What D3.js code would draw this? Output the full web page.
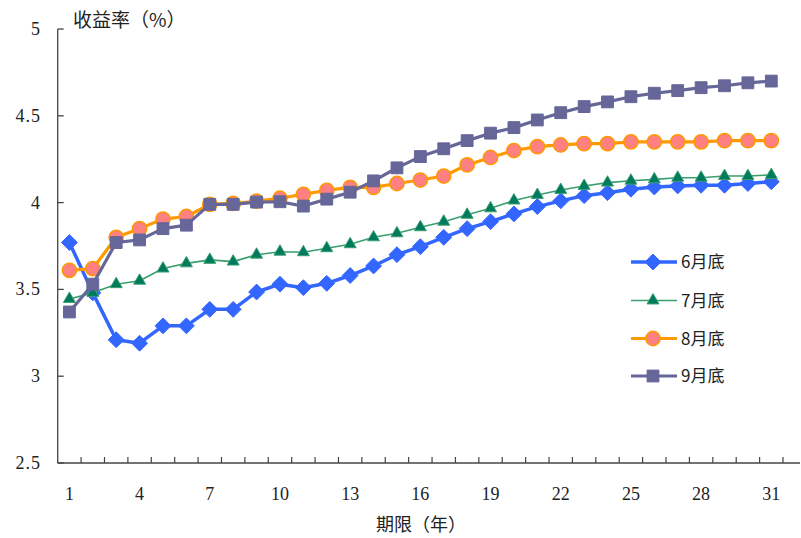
<!DOCTYPE html>
<html>
<head>
<meta charset="utf-8">
<script src="https://cdn.jsdelivr.net/npm/d3@7"></script>
<style>
  body { margin: 0; background: #fff; }
  svg { display: block; }
  text { font-family: "Liberation Serif", "DejaVu Serif", "Noto Sans CJK SC", serif; fill: #222; }
  .cjk { font-family: "Noto Sans CJK SC", sans-serif; }
</style>
</head>
<body>
<svg id="chart" width="801" height="538"></svg>
<script>
// tenor (years)
const tenors = [1,2,3,4,5,6,7,8,9,10,11,12,13,14,15,16,17,18,19,20,21,22,23,24,25,26,27,28,29,30,31];
const xTickLabels = [1,4,7,10,13,16,19,22,25,28,31];
const yTicks = [2.5, 3, 3.5, 4, 4.5, 5];

const seriesNames = ["6月底", "7月底", "8月底", "9月底"];

const june = [3.77,3.48,3.21,3.19,3.29,3.29,3.385,3.385,3.485,3.53,3.51,3.535,3.58,3.635,3.70,3.746,3.80,3.85,3.89,3.935,3.977,4.01,4.04,4.057,4.077,4.09,4.096,4.10,4.10,4.11,4.12];
const july = [3.445,3.48,3.53,3.55,3.62,3.65,3.67,3.66,3.70,3.717,3.714,3.737,3.76,3.80,3.823,3.858,3.89,3.93,3.967,4.012,4.044,4.073,4.096,4.115,4.126,4.134,4.143,4.143,4.153,4.153,4.159];
const august = [3.61,3.62,3.80,3.85,3.905,3.92,3.99,3.995,4.008,4.025,4.048,4.07,4.088,4.088,4.11,4.13,4.153,4.217,4.26,4.30,4.322,4.332,4.34,4.34,4.35,4.35,4.35,4.35,4.357,4.357,4.357];
const september = [3.37,3.53,3.77,3.785,3.85,3.87,3.99,3.99,4.003,4.005,3.98,4.02,4.06,4.125,4.20,4.265,4.31,4.357,4.40,4.432,4.476,4.518,4.553,4.58,4.61,4.63,4.645,4.662,4.673,4.69,4.70];

const seriesValues = [june, july, august, september];

const styles = [
  {line: "#3366FF", width: 3.5, marker: d3.symbolDiamond2, size: 160, fill: "#3366FF", stroke: "#3366FF"},
  {line: "#3A9F6E", width: 1.6, marker: d3.symbolTriangle, size: 62, fill: "#007A5E", stroke: "#3A9F6E"},
  {line: "#FF9900", width: 3.2, marker: d3.symbolCircle, size: 160, fill: "#FF8080", stroke: "#FF9900"},
  {line: "#666699", width: 3.2, marker: d3.symbolSquare, size: 140, fill: "#666699", stroke: "#666699"}
];

const svg = d3.select("#chart");
const plotLeft = 57.7, plotRight = 783, plotTop = 29, plotBottom = 463;

const x = d3.scaleBand().domain(tenors).range([plotLeft, plotRight]).padding(0);
const y = d3.scaleLinear().domain([2.5, 5]).range([plotBottom, plotTop]);
const cx = d => x(d) + x.bandwidth() / 2;

// axes
const axisColor = "#444";
svg.append("line")
  .attr("x1", plotLeft).attr("x2", plotLeft).attr("y1", plotTop).attr("y2", plotBottom)
  .attr("stroke", axisColor).attr("stroke-width", 1.3);
svg.append("line")
  .attr("x1", plotLeft).attr("x2", 800).attr("y1", plotBottom).attr("y2", plotBottom)
  .attr("stroke", axisColor).attr("stroke-width", 1.3);

// y ticks, pointing inward
svg.selectAll(".ytick").data(yTicks).enter().append("line")
  .attr("x1", plotLeft).attr("x2", plotLeft + 6)
  .attr("y1", d => y(d)).attr("y2", d => y(d))
  .attr("stroke", axisColor).attr("stroke-width", 1.3);

svg.selectAll(".ylab").data(yTicks).enter().append("text")
  .attr("x", 41).attr("y", d => y(d) + 6)
  .attr("text-anchor", "end")
  .attr("font-size", 18)
  .attr("letter-spacing", 1)
  .text(d => d);

// x ticks at band boundaries, pointing inward
svg.selectAll(".xtick").data(tenors).enter().append("line")
  .attr("x1", d => x(d) + x.bandwidth()).attr("x2", d => x(d) + x.bandwidth())
  .attr("y1", plotBottom).attr("y2", plotBottom - 6)
  .attr("stroke", axisColor).attr("stroke-width", 1.2);

svg.selectAll(".xlab").data(xTickLabels).enter().append("text")
  .attr("x", d => cx(d)).attr("y", 500)
  .attr("text-anchor", "middle")
  .attr("font-size", 18)
  .text(d => d);

// axis titles
svg.append("text").attr("class", "cjk")
  .attr("x", 73).attr("y", 27)
  .attr("font-size", 19)
  .text("收益率（%）");

svg.append("text").attr("class", "cjk")
  .attr("x", 421).attr("y", 531)
  .attr("text-anchor", "middle")
  .attr("font-size", 18)
  .text("期限（年）");

// lines and markers
const line = d3.line().x((d, i) => cx(tenors[i])).y(d => y(d));

seriesValues.forEach((vals, s) => {
  const st = styles[s];
  const g = svg.append("g");
  g.append("path")
    .datum(vals)
    .attr("d", line)
    .attr("fill", "none")
    .attr("stroke", st.line)
    .attr("stroke-width", st.width)
    .attr("stroke-linejoin", "round");

  g.selectAll("path.m").data(vals).enter().append("path")
    .attr("class", "m")
    .attr("transform", (d, i) => `translate(${cx(tenors[i])},${y(d)})`)
    .attr("d", d3.symbol().type(st.marker).size(st.size))
    .attr("fill", st.fill)
    .attr("stroke", st.stroke)
    .attr("stroke-width", s === 2 ? 1.5 : 1);
});

// legend
const legend = svg.append("g");
const legendRows = [262, 300.5, 338.5, 376];
seriesNames.forEach((name, s) => {
  const st = styles[s];
  const ly = legendRows[s];
  legend.append("line")
    .attr("x1", 631).attr("x2", 677).attr("y1", ly).attr("y2", ly)
    .attr("stroke", st.line).attr("stroke-width", st.width);
  legend.append("path")
    .attr("transform", `translate(653,${ly})`)
    .attr("d", d3.symbol().type(st.marker).size(st.size))
    .attr("fill", st.fill)
    .attr("stroke", st.stroke)
    .attr("stroke-width", s === 2 ? 1.5 : 1);
  legend.append("text").attr("class", "cjk")
    .attr("x", 681).attr("y", ly + 6)
    .attr("font-size", 17)
    .text(name);
});
</script>
</body>
</html>
